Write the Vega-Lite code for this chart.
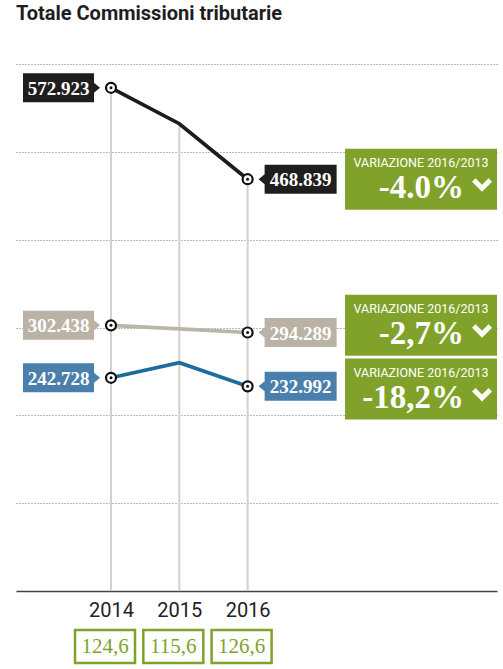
{
  "$schema": "https://vega.github.io/schema/vega-lite/v6.json",
  "autosize": "none",
  "padding": {"left": 16, "top": 64, "right": 6, "bottom": 78},
  "width": 481,
  "height": 527,
  "background": "white",
  "title": {"text": "Totale Commissioni tributarie", "anchor": "start", "frame": "group", "font": "Roboto", "fontWeight": "bold", "fontSize": 20, "color": "#1e1e1e", "offset": 40},
  "config": {"view": {"stroke": null}},
  "datasets": {
    "serie": [
      {"serie": "nero", "anno": 2014, "valore": 572.923},
      {"serie": "nero", "anno": 2015, "valore": 532},
      {"serie": "nero", "anno": 2016, "valore": 468.839},
      {"serie": "grigio", "anno": 2014, "valore": 302.438},
      {"serie": "grigio", "anno": 2015, "valore": 298.5},
      {"serie": "grigio", "anno": 2016, "valore": 294.289},
      {"serie": "blu", "anno": 2014, "valore": 242.728},
      {"serie": "blu", "anno": 2015, "valore": 260},
      {"serie": "blu", "anno": 2016, "valore": 232.992}
    ],
    "variazioni": [
      {"serie": "nero", "variazione": "-4.0%", "riferimento": 468.839},
      {"serie": "grigio", "variazione": "-2,7%", "riferimento": 302.438},
      {"serie": "blu", "variazione": "-18,2%", "riferimento": 230}
    ],
    "indici": [
      {"anno": 2014, "indice": "124,6"},
      {"anno": 2015, "indice": "115,6"},
      {"anno": 2016, "indice": "126,6"}
    ]
  },
  "layer": [
    {
      "data": {"name": "serie"},
      "transform": [{"aggregate": [{"op": "max", "field": "valore", "as": "massimo"}], "groupby": ["anno"]}],
      "mark": {"type": "rule", "color": "#d4d0ca", "strokeWidth": 2},
      "encoding": {
        "x": {"field": "anno", "type": "quantitative", "scale": {"domain": [2012.609, 2019.651], "nice": false, "zero": false},
          "axis": {"values": [2014, 2015, 2016], "format": "d", "grid": false, "ticks": false, "domainColor": "#444444", "domainWidth": 1.5, "labelFont": "Roboto", "labelFontSize": 20, "labelColor": "#222222", "labelPadding": 9, "title": null}},
        "y": {"field": "massimo", "type": "quantitative", "scale": {"domain": [0, 600], "nice": false},
          "axis": {"values": [100, 200, 300, 400, 500, 600], "grid": true, "gridDash": [1, 2], "gridColor": "#777777", "gridWidth": 1, "labels": false, "ticks": false, "domain": false, "title": null}},
        "y2": {"datum": 0}
      }
    },
    {
      "data": {"name": "serie"},
      "mark": {"type": "line", "strokeWidth": 3.7},
      "encoding": {
        "x": {"field": "anno", "type": "quantitative"},
        "y": {"field": "valore", "type": "quantitative"},
        "detail": {"field": "serie"},
        "color": {"field": "serie", "type": "nominal", "legend": null, "scale": {"domain": ["nero", "grigio", "blu"], "range": ["#1c1c1c", "#bbb4a8", "#1d6c9e"]}}
      }
    },
    {
      "data": {"name": "serie"},
      "transform": [{"filter": "datum.anno == 2014"}],
      "mark": {"type": "point", "filled": true, "opacity": 1, "size": 400, "strokeWidth": 0, "shape": "M-8.8,-1.45L-1.7,-1.45L-1.7,-0.5L-1.1,0L-1.7,0.5L-1.7,1.45L-8.8,1.45Z"},
      "encoding": {
        "x": {"field": "anno", "type": "quantitative"},
        "y": {"field": "valore", "type": "quantitative"},
        "fill": {"field": "serie", "type": "nominal", "legend": null, "scale": {"domain": ["nero", "grigio", "blu"], "range": ["#1e1e1e", "#b9b2a5", "#4a7fac"]}}
      }
    },
    {
      "data": {"name": "serie"},
      "transform": [{"filter": "datum.anno == 2016"}],
      "mark": {"type": "point", "filled": true, "opacity": 1, "size": 400, "strokeWidth": 0, "shape": "M1.1,0L1.7,-0.5L1.7,-1.45L8.9,-1.45L8.9,1.45L1.7,1.45L1.7,0.5Z"},
      "encoding": {
        "x": {"field": "anno", "type": "quantitative"},
        "y": {"field": "valore", "type": "quantitative"},
        "fill": {"field": "serie", "type": "nominal", "legend": null}
      }
    },
    {
      "data": {"name": "serie"},
      "transform": [{"filter": "datum.anno == 2014"}],
      "mark": {"type": "text", "font": "Liberation Serif", "fontWeight": "bold", "fontSize": 19, "color": "white", "align": "center", "baseline": "middle", "dx": -52.5, "dy": 1},
      "encoding": {
        "x": {"field": "anno", "type": "quantitative"},
        "y": {"field": "valore", "type": "quantitative"},
        "text": {"field": "valore", "type": "quantitative", "format": ".3f"}
      }
    },
    {
      "data": {"name": "serie"},
      "transform": [{"filter": "datum.anno == 2016"}],
      "mark": {"type": "text", "font": "Liberation Serif", "fontWeight": "bold", "fontSize": 19, "color": "white", "align": "center", "baseline": "middle", "dx": 53, "dy": 1},
      "encoding": {
        "x": {"field": "anno", "type": "quantitative"},
        "y": {"field": "valore", "type": "quantitative"},
        "text": {"field": "valore", "type": "quantitative", "format": ".3f"}
      }
    },
    {
      "data": {"name": "serie"},
      "transform": [{"filter": "datum.anno != 2015"}],
      "mark": {"type": "point", "shape": "circle", "size": 100, "fill": "white", "filled": false, "stroke": "#111111", "strokeWidth": 2.2, "opacity": 1, "fillOpacity": 1},
      "encoding": {
        "x": {"field": "anno", "type": "quantitative"},
        "y": {"field": "valore", "type": "quantitative"}
      }
    },
    {
      "data": {"name": "serie"},
      "transform": [{"filter": "datum.anno != 2015"}],
      "mark": {"type": "point", "shape": "circle", "size": 9, "filled": true, "color": "#111111", "opacity": 1},
      "encoding": {
        "x": {"field": "anno", "type": "quantitative"},
        "y": {"field": "valore", "type": "quantitative"}
      }
    },
    {
      "data": {"name": "variazioni"},
      "mark": {"type": "rect", "color": "#80a22a", "yOffset": -30.5, "y2Offset": 30.5},
      "encoding": {
        "x": {"datum": 2017.426, "type": "quantitative"},
        "x2": {"datum": 2019.651},
        "y": {"field": "riferimento", "type": "quantitative"},
        "y2": {"field": "riferimento"}
      }
    },
    {
      "data": {"name": "variazioni"},
      "mark": {"type": "text", "font": "Roboto", "fontSize": 12.5, "color": "white", "align": "center", "baseline": "alphabetic", "dy": -12},
      "encoding": {
        "x": {"datum": 2018.539, "type": "quantitative"},
        "y": {"field": "riferimento", "type": "quantitative"},
        "text": {"value": "VARIAZIONE 2016/2013"}
      }
    },
    {
      "data": {"name": "variazioni"},
      "mark": {"type": "text", "font": "Liberation Serif", "fontWeight": "bold", "fontSize": 33, "color": "white", "align": "right", "baseline": "alphabetic", "dy": 19},
      "encoding": {
        "x": {"datum": 2019.168, "type": "quantitative"},
        "y": {"field": "riferimento", "type": "quantitative"},
        "text": {"field": "variazione"}
      }
    },
    {
      "data": {"name": "variazioni"},
      "mark": {"type": "point", "filled": true, "color": "white", "opacity": 1, "size": 400, "strokeWidth": 0, "yOffset": 6, "shape": "M-1.0,-0.35L-0.65,-0.7L0,-0.05L0.65,-0.7L1.0,-0.35L0,0.65Z"},
      "encoding": {
        "x": {"datum": 2019.432, "type": "quantitative"},
        "y": {"field": "riferimento", "type": "quantitative"}
      }
    },
    {
      "data": {"name": "indici"},
      "mark": {"type": "rect", "fill": "white", "stroke": "#7fa32a", "strokeWidth": 2.5, "xOffset": -36, "x2Offset": 24},
      "encoding": {
        "x": {"field": "anno", "type": "quantitative"},
        "x2": {"field": "anno"},
        "y": {"datum": -44.4, "type": "quantitative"},
        "y2": {"datum": -82}
      }
    },
    {
      "data": {"name": "indici"},
      "mark": {"type": "text", "font": "Liberation Serif", "fontSize": 21, "color": "#7fa32a", "align": "center", "baseline": "alphabetic", "dx": -6},
      "encoding": {
        "x": {"field": "anno", "type": "quantitative"},
        "y": {"datum": -71, "type": "quantitative"},
        "text": {"field": "indice"}
      }
    }
  ]
}
